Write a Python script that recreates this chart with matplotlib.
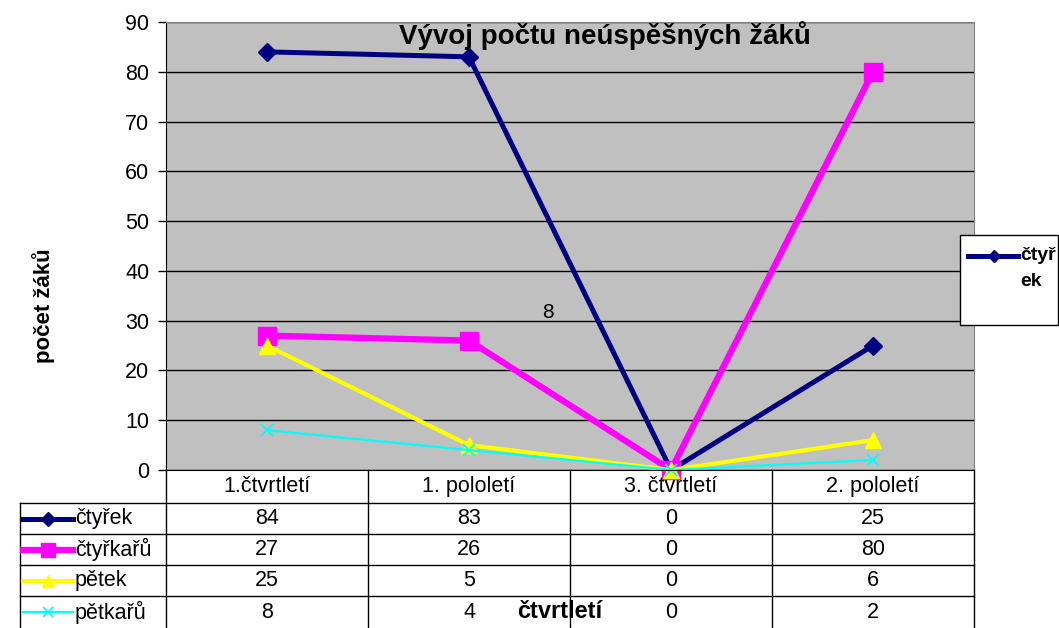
import matplotlib.pyplot as plt
from matplotlib.patches import Rectangle

plt.rcParams['font.family'] = ['Liberation Sans', 'DejaVu Sans']

W, H = 1059, 628

# data
cats = ["1.čtvrtletí", "1. pololetí", "3. čtvrtletí", "2. pololetí"]
names = ["čtyřek", "čtyřkařů", "pětek", "pětkařů"]
ctyrek = [84, 83, 0, 25]
ctyrkaru = [27, 26, 0, 80]
petek = [25, 5, 0, 6]
petkaru = [8, 4, 0, 2]
series = [ctyrek, ctyrkaru, petek, petkaru]

# styles per series
styles = [
    dict(color='#000080', lw=3.6, marker='D', ms=9),
    dict(color='#ff00ff', lw=4.5, marker='s', ms=13),
    dict(color='#ffff00', lw=3.0, marker='^', ms=11),
    dict(color='#00ffff', lw=1.6, marker='x', ms=9, mew=1.2),
]

fig = plt.figure(figsize=(W / 100, H / 100), dpi=100)

# plot area in pixels
L, R, T, B = 166, 974, 22, 470
ax = fig.add_axes([L / W, 1 - B / H, (R - L) / W, (B - T) / H])
ax.set_facecolor('#c0c0c0')
x = list(range(len(cats)))
for vals, st in zip(series, styles):
    ax.plot(x, vals, clip_on=False, **st)
ax.set_xlim(-0.5, len(cats) - 0.5)
ax.set_ylim(0, 90)
ax.set_yticks(range(0, 91, 10))
ax.yaxis.grid(True, color='black', lw=1)
ax.set_axisbelow(True)
ax.set_xticks([])
ax.tick_params(axis='y', direction='out', length=6, width=1, labelsize=15.5, pad=6)
ax.spines['left'].set_color('black')
ax.spines['bottom'].set_color('black')
ax.spines['top'].set_color('#808080')
ax.spines['right'].set_color('#808080')

# overlay in pixel coordinates for table, labels and legend
ov = fig.add_axes([0, 0, 1, 1], zorder=5)
ov.set_xlim(0, W)
ov.set_ylim(H, 0)
ov.axis('off')
ov.patch.set_alpha(0)

fig.text(605 / W, 1 - 36 / H, "Vývoj počtu neúspěšných žáků", ha='center', va='center',
         fontsize=20, fontweight='bold')
fig.text(44 / W, 1 - 306 / H, "počet žáků", rotation=90, ha='center', va='center',
         fontsize=16, fontweight='bold')
ov.text(548, 313, "8", ha='center', va='center', fontsize=15)

# data table
colw = (R - L) / len(cats)
row_y = [470, 503, 534, 565, 596, 628]
lab_left = 20
for i in range(len(cats) + 1):
    ov.plot([L + i * colw] * 2, [470, 628], color='black', lw=1)
for yy in row_y[1:-1]:
    ov.plot([lab_left, R], [yy, yy], color='black', lw=1)
ov.plot([lab_left, lab_left], [503, 628], color='black', lw=1)
for i, c in enumerate(cats):
    ov.text(L + (i + 0.5) * colw, (row_y[0] + row_y[1]) / 2, c, ha='center', va='center', fontsize=15.5)
for r, (nm, vals, st) in enumerate(zip(names, series, styles)):
    yc = (row_y[r + 1] + row_y[r + 2]) / 2
    ov.plot([23, 73], [yc, yc], color=st['color'], lw=st['lw'])
    ov.plot([48], [yc], color=st['color'], marker=st['marker'], ms=st['ms'] * 0.8,
            mew=st.get('mew', 1), lw=0)
    ov.text(75, yc, nm, ha='left', va='center', fontsize=15.5)
    for i, v in enumerate(vals):
        ov.text(L + (i + 0.5) * colw, yc, str(v), ha='center', va='center', fontsize=15.5)

ov.text(560, 612, "čtvrtletí", ha='center', va='center', fontsize=17, fontweight='bold')

# legend box (only first series visible)
ov.add_patch(Rectangle((960, 235), 98, 90, facecolor='white', edgecolor='black', lw=1))
ov.plot([968, 1018], [256, 256], color=styles[0]['color'], lw=styles[0]['lw'])
ov.plot([994], [256], color=styles[0]['color'], marker='D', ms=6, lw=0)
ov.text(1020, 256, "čtyř", ha='left', va='center', fontsize=14, fontweight='bold')
ov.text(1020, 281, "ek", ha='left', va='center', fontsize=14, fontweight='bold')

fig.savefig('out.png', dpi=100)
